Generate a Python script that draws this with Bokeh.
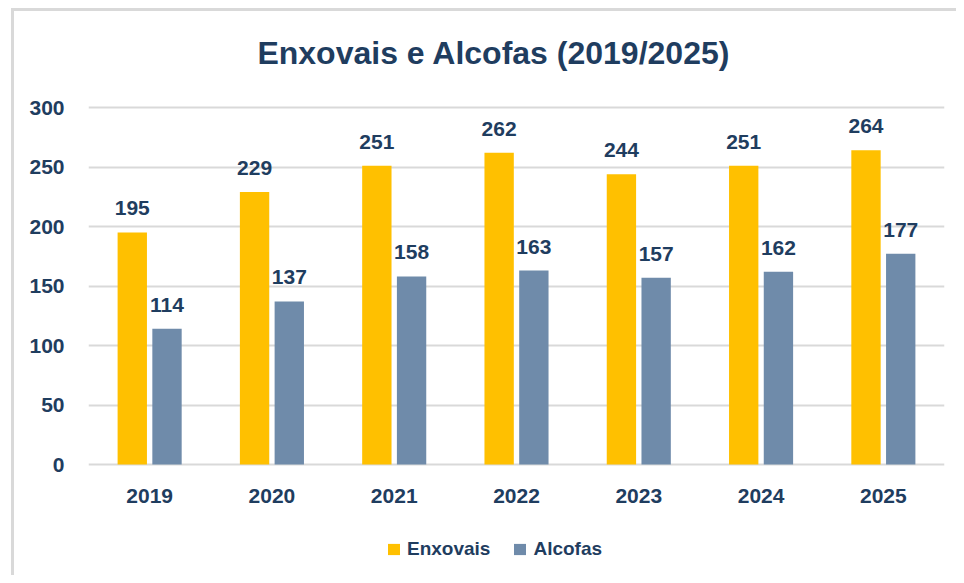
from bokeh.plotting import figure
from bokeh.models import ColumnDataSource, FactorRange, Range1d, Legend, LegendItem, Label
from bokeh.transform import dodge
from bokeh.core.properties import value
from bokeh.embed import file_html
from bokeh.resources import INLINE

years = ["2019", "2020", "2021", "2022", "2023", "2024", "2025"]
enxovais = [195, 229, 251, 262, 244, 251, 264]
alcofas = [114, 137, 158, 163, 157, 162, 177]
y_ticks = [0, 50, 100, 150, 200, 250, 300]
title_text = "Enxovais e Alcofas (2019/2025)"

TXT = "#1F3D5F"
YEL = "#FFC000"
BLU = "#6F8BAA"
GRID = "#D9D9D9"
FONT = "Liberation Sans"

# layout: value axis 0..300 spans 357 px; frame covers the whole canvas height
PX_PER_UNIT = 357 / 300
Y_LO = -111 / PX_PER_UNIT
Y_HI = 300 + 107 / PX_PER_UNIT

src = ColumnDataSource(dict(
    years=years, enx=enxovais, alc=alcofas, zero=[0] * len(years),
    enx_t=[str(v) for v in enxovais], alc_t=[str(v) for v in alcofas],
))

p = figure(
    x_range=FactorRange(*years, range_padding=0),
    y_range=Range1d(Y_LO, Y_HI),
    frame_width=856, frame_height=575,
    x_axis_location=None,
    output_backend="svg", toolbar_location=None,
    min_border_left=88, min_border_right=12,
    min_border_top=0, min_border_bottom=0,
    background_fill_color=None, border_fill_color=None,
)
p.outline_line_color = None
p.styles = {
    "background": "linear-gradient(#D9D9D9,#D9D9D9) 11px 8px / 100% 3px no-repeat, "
                  "linear-gradient(#D9D9D9,#D9D9D9) 11px 8px / 3px 100% no-repeat, white"
}

r1 = p.vbar(x=dodge("years", -0.142, range=p.x_range), top="enx", width=0.24,
            source=src, fill_color=YEL, line_color=None)
r2 = p.vbar(x=dodge("years", 0.142, range=p.x_range), top="alc", width=0.24,
            source=src, fill_color=BLU, line_color=None)

for col, off in (("enx", -0.142), ("alc", 0.142)):
    p.text(x=dodge("years", off, range=p.x_range), y=col, text=col + "_t", source=src,
           text_align="center", text_baseline="alphabetic", y_offset=-24,
           text_font=value(FONT), text_font_style="bold", text_font_size="21px",
           text_color=TXT)

# category labels under the baseline
p.text(x="years", y="zero", text="years", source=src,
       text_align="center", text_baseline="alphabetic", y_offset=31,
       text_font=value(FONT), text_font_style="bold", text_font_size="21px",
       text_color=TXT)

# y axis
p.yaxis.ticker = y_ticks
p.yaxis.axis_line_color = None
p.yaxis.major_tick_line_color = None
p.yaxis.minor_tick_line_color = None
p.yaxis.major_label_standoff = 18
p.yaxis.major_label_text_font = FONT
p.yaxis.major_label_text_font_style = "bold"
p.yaxis.major_label_text_font_size = "21px"
p.yaxis.major_label_text_color = TXT

p.xgrid.grid_line_color = None
p.ygrid.grid_line_color = GRID
p.ygrid.grid_line_width = 2

# title
p.add_layout(Label(x=3.316, y=300 + 55 / PX_PER_UNIT, text=title_text,
                   text_align="center", text_baseline="alphabetic",
                   text_font=FONT, text_font_style="bold",
                   text_font_size="32px", text_color=TXT))

legend = Legend(items=[LegendItem(label="Enxovais", renderers=[r1]),
                       LegendItem(label="Alcofas", renderers=[r2])],
                location=(298, 15), orientation="horizontal",
                glyph_width=15, glyph_height=14, label_standoff=6, spacing=22,
                padding=0, margin=0, border_line_color=None,
                background_fill_alpha=0,
                label_text_font=FONT, label_text_font_style="bold",
                label_text_font_size="19px", label_text_color=TXT)
p.add_layout(legend)

open("out.html", "w").write(file_html(p, INLINE))
